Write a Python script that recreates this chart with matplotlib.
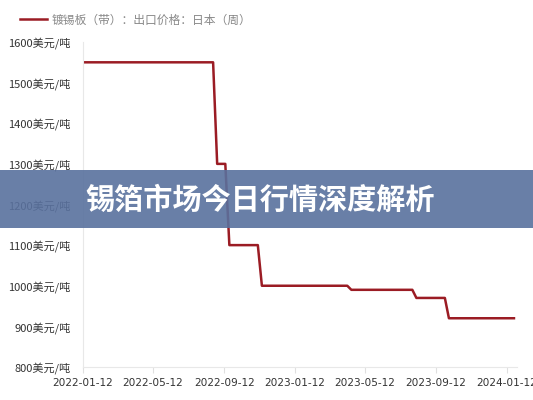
import matplotlib
matplotlib.use("Agg")
import matplotlib.pyplot as plt
from matplotlib.patches import Rectangle
import pandas as pd

plt.rcParams['font.family'] = ['Noto Sans CJK SC', 'DejaVu Sans']

# Data: weekly change points (date, price in USD/ton)
dates = ["2022-01-12", "2022-08-24", "2022-08-31", "2022-09-14", "2022-09-21",
         "2022-11-09", "2022-11-16", "2023-04-12", "2023-04-19", "2023-08-02",
         "2023-08-09", "2023-09-27", "2023-10-04", "2024-01-24"]
prices = [1550, 1550, 1300, 1300, 1100, 1100, 1000, 1000, 990, 990,
          970, 970, 920, 920]
xticks = ["2022-01-12", "2022-05-12", "2022-09-12", "2023-01-12",
          "2023-05-12", "2023-09-12", "2024-01-12"]
yticks = [800, 900, 1000, 1100, 1200, 1300, 1400, 1500, 1600]
series_name = "镀锡板（带）：出口价格：日本（周）"
title = "锡箔市场今日行情深度解析"

d = pd.to_datetime(dates)
xt = pd.to_datetime(xticks)

fig = plt.figure(figsize=(5.33, 4.0), dpi=100)
ax = fig.add_axes([83/533, 1-367/400, (517-83)/533, (367-42)/400])

ax.plot(d, prices, color="#9b1c24", lw=1.8, label=series_name)

ax.set_ylim(800, 1600)
x0 = pd.Timestamp("2022-01-12")
ax.set_xlim(x0, x0 + (pd.Timestamp("2024-01-12") - x0) * (434/424))
ax.set_yticks(yticks)
ax.set_yticklabels([f"{v}美元/吨" for v in yticks], fontsize=8, color="#333333")
ax.set_xticks(xt)
ax.set_xticklabels(xticks, fontsize=7.6, color="#333333", family="DejaVu Sans")
ax.tick_params(axis='y', length=0, pad=9)
ax.tick_params(axis='x', length=4, color="#e0e0e0", pad=4)

for s in ['top', 'right']:
    ax.spines[s].set_visible(False)
for s in ['left', 'bottom']:
    ax.spines[s].set_color("#e8e8e8")
    ax.spines[s].set_linewidth(0.8)

leg = fig.legend(loc='upper left', bbox_to_anchor=(9/533, 1-3/400), frameon=False,
                 fontsize=8.5, handlelength=2.3, handletextpad=0.4)
for t in leg.get_texts():
    t.set_color("#888888")

# Banner overlay
fig.patches.append(Rectangle((0, 1-228/400), 1, 58/400, transform=fig.transFigure,
                             facecolor="#59719e", alpha=0.9, edgecolor='none', zorder=5))
fig.text(85/533, 1-200/400, title, color="white", fontsize=21, fontweight='bold',
         va='center', ha='left', zorder=6)

fig.savefig("out.png", dpi=100)
